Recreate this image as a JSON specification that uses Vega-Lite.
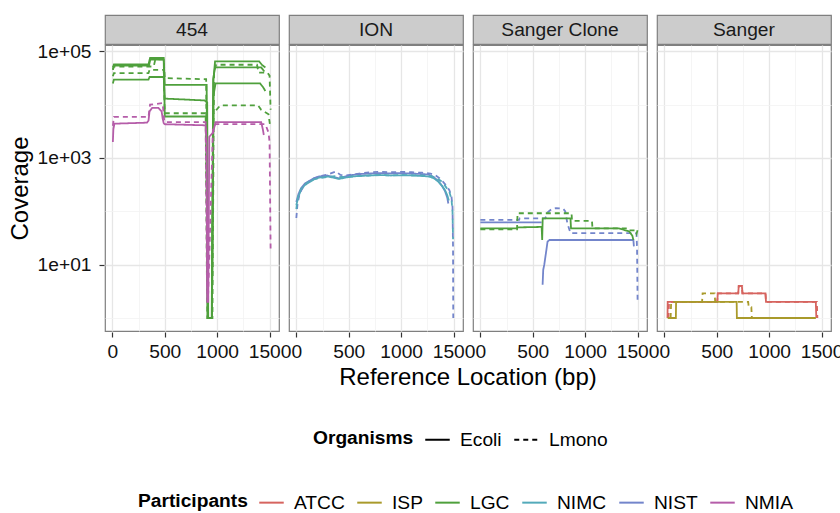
{
"$schema": "https://vega.github.io/schema/vega-lite/v6.json",
"background": "white",
"padding": {"left": 8, "top": 14, "right": 5, "bottom": 0},
"config": {
  "font": "Liberation Sans",
  "view": {"stroke": "#7F7F7F", "strokeWidth": 1.2},
  "axis": {"labelFont": "Liberation Sans", "labelFontSize": 19.2, "labelColor": "#111111", "titleFont": "Liberation Sans", "titleFontSize": 24, "titleFontWeight": "normal", "titleColor": "#000000", "tickColor": "#333333", "tickSize": 5, "tickWidth": 1.2, "domain": false},
  "legend": {"labelFont": "Liberation Sans", "labelFontSize": 19.2, "labelColor": "#000000", "titleFont": "Liberation Sans", "titleFontSize": 19.2, "titleFontWeight": "bold", "titleColor": "#000000", "symbolType": "stroke", "symbolSize": 600, "symbolStrokeWidth": 2, "labelOffset": 9, "columnPadding": 8, "titlePadding": 10, "titleOrient": "left", "direction": "horizontal"}
},
"resolve": {"scale": {"y": "independent"}},
"spacing": -4,
"datasets": {
"cov": [
{"panel":"454","who":"LGC","org":"Ecoli","run":"a1","x":5,"y":50000},
{"panel":"454","who":"LGC","org":"Ecoli","run":"a1","x":15,"y":57000},
{"panel":"454","who":"LGC","org":"Ecoli","run":"a1","x":345,"y":57000},
{"panel":"454","who":"LGC","org":"Ecoli","run":"a1","x":360,"y":75000},
{"panel":"454","who":"LGC","org":"Ecoli","run":"a1","x":490,"y":75000},
{"panel":"454","who":"LGC","org":"Ecoli","run":"a1","x":500,"y":23500},
{"panel":"454","who":"LGC","org":"Ecoli","run":"a1","x":900,"y":23500},
{"panel":"454","who":"LGC","org":"Ecoli","run":"a1","x":910,"y":1},
{"panel":"454","who":"LGC","org":"Ecoli","run":"a1","x":950,"y":1},
{"panel":"454","who":"LGC","org":"Ecoli","run":"a1","x":965,"y":30000},
{"panel":"454","who":"LGC","org":"Ecoli","run":"a1","x":980,"y":65000},
{"panel":"454","who":"LGC","org":"Ecoli","run":"a1","x":1400,"y":65000},
{"panel":"454","who":"LGC","org":"Ecoli","run":"a1","x":1430,"y":55000},
{"panel":"454","who":"LGC","org":"Ecoli","run":"a1","x":1460,"y":50000},
{"panel":"454","who":"LGC","org":"Ecoli","run":"a2","x":5,"y":25000},
{"panel":"454","who":"LGC","org":"Ecoli","run":"a2","x":15,"y":29500},
{"panel":"454","who":"LGC","org":"Ecoli","run":"a2","x":345,"y":29500},
{"panel":"454","who":"LGC","org":"Ecoli","run":"a2","x":355,"y":33000},
{"panel":"454","who":"LGC","org":"Ecoli","run":"a2","x":490,"y":33000},
{"panel":"454","who":"LGC","org":"Ecoli","run":"a2","x":500,"y":13000},
{"panel":"454","who":"LGC","org":"Ecoli","run":"a2","x":880,"y":12000},
{"panel":"454","who":"LGC","org":"Ecoli","run":"a2","x":905,"y":11000},
{"panel":"454","who":"LGC","org":"Ecoli","run":"a2","x":915,"y":1},
{"panel":"454","who":"LGC","org":"Ecoli","run":"a2","x":950,"y":1},
{"panel":"454","who":"LGC","org":"Ecoli","run":"a2","x":965,"y":15000},
{"panel":"454","who":"LGC","org":"Ecoli","run":"a2","x":985,"y":25000},
{"panel":"454","who":"LGC","org":"Ecoli","run":"a2","x":1410,"y":25000},
{"panel":"454","who":"LGC","org":"Ecoli","run":"a2","x":1440,"y":21000},
{"panel":"454","who":"LGC","org":"Ecoli","run":"a2","x":1460,"y":18000},
{"panel":"454","who":"LGC","org":"Ecoli","run":"a3","x":5,"y":45000},
{"panel":"454","who":"LGC","org":"Ecoli","run":"a3","x":15,"y":54000},
{"panel":"454","who":"LGC","org":"Ecoli","run":"a3","x":350,"y":54000},
{"panel":"454","who":"LGC","org":"Ecoli","run":"a3","x":362,"y":70000},
{"panel":"454","who":"LGC","org":"Ecoli","run":"a3","x":490,"y":70000},
{"panel":"454","who":"LGC","org":"Ecoli","run":"a3","x":500,"y":6000},
{"panel":"454","who":"LGC","org":"Ecoli","run":"a3","x":895,"y":6000},
{"panel":"454","who":"LGC","org":"Ecoli","run":"a3","x":912,"y":1},
{"panel":"454","who":"LGC","org":"Ecoli","run":"a3","x":948,"y":1},
{"panel":"454","who":"LGC","org":"Ecoli","run":"a3","x":962,"y":30000},
{"panel":"454","who":"LGC","org":"Ecoli","run":"a3","x":980,"y":50000},
{"panel":"454","who":"LGC","org":"Ecoli","run":"a3","x":1420,"y":50000},
{"panel":"454","who":"LGC","org":"Ecoli","run":"a3","x":1450,"y":42000},
{"panel":"454","who":"LGC","org":"Lmono","run":"a4","x":5,"y":45000},
{"panel":"454","who":"LGC","org":"Lmono","run":"a4","x":15,"y":52000},
{"panel":"454","who":"LGC","org":"Lmono","run":"a4","x":395,"y":52000},
{"panel":"454","who":"LGC","org":"Lmono","run":"a4","x":410,"y":71000},
{"panel":"454","who":"LGC","org":"Lmono","run":"a4","x":490,"y":71000},
{"panel":"454","who":"LGC","org":"Lmono","run":"a4","x":500,"y":31500},
{"panel":"454","who":"LGC","org":"Lmono","run":"a4","x":895,"y":30000},
{"panel":"454","who":"LGC","org":"Lmono","run":"a4","x":908,"y":1},
{"panel":"454","who":"LGC","org":"Lmono","run":"a4","x":955,"y":1},
{"panel":"454","who":"LGC","org":"Lmono","run":"a4","x":970,"y":40000},
{"panel":"454","who":"LGC","org":"Lmono","run":"a4","x":990,"y":56000},
{"panel":"454","who":"LGC","org":"Lmono","run":"a4","x":1380,"y":56000},
{"panel":"454","who":"LGC","org":"Lmono","run":"a4","x":1395,"y":40000},
{"panel":"454","who":"LGC","org":"Lmono","run":"a4","x":1480,"y":40000},
{"panel":"454","who":"LGC","org":"Lmono","run":"a4","x":1500,"y":35000},
{"panel":"454","who":"LGC","org":"Lmono","run":"a4","x":1510,"y":8000},
{"panel":"454","who":"LGC","org":"Lmono","run":"a5","x":5,"y":34000},
{"panel":"454","who":"LGC","org":"Lmono","run":"a5","x":15,"y":39000},
{"panel":"454","who":"LGC","org":"Lmono","run":"a5","x":345,"y":39000},
{"panel":"454","who":"LGC","org":"Lmono","run":"a5","x":355,"y":45000},
{"panel":"454","who":"LGC","org":"Lmono","run":"a5","x":490,"y":45000},
{"panel":"454","who":"LGC","org":"Lmono","run":"a5","x":500,"y":6900},
{"panel":"454","who":"LGC","org":"Lmono","run":"a5","x":890,"y":6900},
{"panel":"454","who":"LGC","org":"Lmono","run":"a5","x":905,"y":1},
{"panel":"454","who":"LGC","org":"Lmono","run":"a5","x":950,"y":1},
{"panel":"454","who":"LGC","org":"Lmono","run":"a5","x":965,"y":6900},
{"panel":"454","who":"LGC","org":"Lmono","run":"a5","x":1030,"y":9700},
{"panel":"454","who":"LGC","org":"Lmono","run":"a5","x":1390,"y":9700},
{"panel":"454","who":"LGC","org":"Lmono","run":"a5","x":1420,"y":8000},
{"panel":"454","who":"LGC","org":"Lmono","run":"a5","x":1490,"y":6600},
{"panel":"454","who":"LGC","org":"Lmono","run":"a5","x":1505,"y":4000},
{"panel":"454","who":"NMIA","org":"Ecoli","run":"a6","x":5,"y":2000},
{"panel":"454","who":"NMIA","org":"Ecoli","run":"a6","x":10,"y":3500},
{"panel":"454","who":"NMIA","org":"Ecoli","run":"a6","x":20,"y":4400},
{"panel":"454","who":"NMIA","org":"Ecoli","run":"a6","x":330,"y":4600},
{"panel":"454","who":"NMIA","org":"Ecoli","run":"a6","x":345,"y":5000},
{"panel":"454","who":"NMIA","org":"Ecoli","run":"a6","x":355,"y":7500},
{"panel":"454","who":"NMIA","org":"Ecoli","run":"a6","x":380,"y":8700},
{"panel":"454","who":"NMIA","org":"Ecoli","run":"a6","x":440,"y":8700},
{"panel":"454","who":"NMIA","org":"Ecoli","run":"a6","x":470,"y":7500},
{"panel":"454","who":"NMIA","org":"Ecoli","run":"a6","x":480,"y":5500},
{"panel":"454","who":"NMIA","org":"Ecoli","run":"a6","x":490,"y":4500},
{"panel":"454","who":"NMIA","org":"Ecoli","run":"a6","x":500,"y":4300},
{"panel":"454","who":"NMIA","org":"Ecoli","run":"a6","x":890,"y":4100},
{"panel":"454","who":"NMIA","org":"Ecoli","run":"a6","x":900,"y":2000},
{"panel":"454","who":"NMIA","org":"Ecoli","run":"a6","x":905,"y":2},
{"panel":"454","who":"NMIA","org":"Ecoli","run":"a6","x":915,"y":2},
{"panel":"454","who":"NMIA","org":"Ecoli","run":"a6","x":925,"y":2500},
{"panel":"454","who":"NMIA","org":"Ecoli","run":"a6","x":960,"y":3000},
{"panel":"454","who":"NMIA","org":"Ecoli","run":"a6","x":985,"y":4700},
{"panel":"454","who":"NMIA","org":"Ecoli","run":"a6","x":1420,"y":4700},
{"panel":"454","who":"NMIA","org":"Ecoli","run":"a6","x":1435,"y":3500},
{"panel":"454","who":"NMIA","org":"Ecoli","run":"a6","x":1445,"y":2700},
{"panel":"454","who":"NMIA","org":"Lmono","run":"a7","x":5,"y":4000},
{"panel":"454","who":"NMIA","org":"Lmono","run":"a7","x":15,"y":5900},
{"panel":"454","who":"NMIA","org":"Lmono","run":"a7","x":345,"y":5900},
{"panel":"454","who":"NMIA","org":"Lmono","run":"a7","x":360,"y":10000},
{"panel":"454","who":"NMIA","org":"Lmono","run":"a7","x":480,"y":10700},
{"panel":"454","who":"NMIA","org":"Lmono","run":"a7","x":495,"y":5000},
{"panel":"454","who":"NMIA","org":"Lmono","run":"a7","x":500,"y":4700},
{"panel":"454","who":"NMIA","org":"Lmono","run":"a7","x":890,"y":4700},
{"panel":"454","who":"NMIA","org":"Lmono","run":"a7","x":905,"y":3},
{"panel":"454","who":"NMIA","org":"Lmono","run":"a7","x":915,"y":3},
{"panel":"454","who":"NMIA","org":"Lmono","run":"a7","x":960,"y":3500},
{"panel":"454","who":"NMIA","org":"Lmono","run":"a7","x":985,"y":4300},
{"panel":"454","who":"NMIA","org":"Lmono","run":"a7","x":1460,"y":4300},
{"panel":"454","who":"NMIA","org":"Lmono","run":"a7","x":1490,"y":3000},
{"panel":"454","who":"NMIA","org":"Lmono","run":"a7","x":1500,"y":2000},
{"panel":"454","who":"NMIA","org":"Lmono","run":"a7","x":1510,"y":19},
{"panel":"ION","who":"NIST","org":"Ecoli","run":"b1","x":0,"y":150},
{"panel":"ION","who":"NIST","org":"Ecoli","run":"b1","x":20,"y":210},
{"panel":"ION","who":"NIST","org":"Ecoli","run":"b1","x":45,"y":270},
{"panel":"ION","who":"NIST","org":"Ecoli","run":"b1","x":80,"y":330},
{"panel":"ION","who":"NIST","org":"Ecoli","run":"b1","x":123,"y":370},
{"panel":"ION","who":"NIST","org":"Ecoli","run":"b1","x":170,"y":420},
{"panel":"ION","who":"NIST","org":"Ecoli","run":"b1","x":218,"y":450},
{"panel":"ION","who":"NIST","org":"Ecoli","run":"b1","x":297,"y":470},
{"panel":"ION","who":"NIST","org":"Ecoli","run":"b1","x":350,"y":440},
{"panel":"ION","who":"NIST","org":"Ecoli","run":"b1","x":407,"y":415},
{"panel":"ION","who":"NIST","org":"Ecoli","run":"b1","x":470,"y":450},
{"panel":"ION","who":"NIST","org":"Ecoli","run":"b1","x":534,"y":480},
{"panel":"ION","who":"NIST","org":"Ecoli","run":"b1","x":600,"y":500},
{"panel":"ION","who":"NIST","org":"Ecoli","run":"b1","x":692,"y":510},
{"panel":"ION","who":"NIST","org":"Ecoli","run":"b1","x":800,"y":520},
{"panel":"ION","who":"NIST","org":"Ecoli","run":"b1","x":900,"y":515},
{"panel":"ION","who":"NIST","org":"Ecoli","run":"b1","x":1008,"y":520},
{"panel":"ION","who":"NIST","org":"Ecoli","run":"b1","x":1100,"y":510},
{"panel":"ION","who":"NIST","org":"Ecoli","run":"b1","x":1200,"y":500},
{"panel":"ION","who":"NIST","org":"Ecoli","run":"b1","x":1260,"y":490},
{"panel":"ION","who":"NIST","org":"Ecoli","run":"b1","x":1310,"y":440},
{"panel":"ION","who":"NIST","org":"Ecoli","run":"b1","x":1354,"y":370},
{"panel":"ION","who":"NIST","org":"Ecoli","run":"b1","x":1390,"y":300},
{"panel":"ION","who":"NIST","org":"Ecoli","run":"b1","x":1418,"y":240},
{"panel":"ION","who":"NIST","org":"Ecoli","run":"b1","x":1440,"y":180},
{"panel":"ION","who":"NIST","org":"Ecoli","run":"b1","x":1450,"y":140},
{"panel":"ION","who":"NIMC","org":"Ecoli","run":"b2","x":0,"y":130},
{"panel":"ION","who":"NIMC","org":"Ecoli","run":"b2","x":20,"y":190},
{"panel":"ION","who":"NIMC","org":"Ecoli","run":"b2","x":45,"y":250},
{"panel":"ION","who":"NIMC","org":"Ecoli","run":"b2","x":80,"y":310},
{"panel":"ION","who":"NIMC","org":"Ecoli","run":"b2","x":123,"y":350},
{"panel":"ION","who":"NIMC","org":"Ecoli","run":"b2","x":170,"y":400},
{"panel":"ION","who":"NIMC","org":"Ecoli","run":"b2","x":218,"y":430},
{"panel":"ION","who":"NIMC","org":"Ecoli","run":"b2","x":297,"y":450},
{"panel":"ION","who":"NIMC","org":"Ecoli","run":"b2","x":350,"y":430},
{"panel":"ION","who":"NIMC","org":"Ecoli","run":"b2","x":407,"y":405},
{"panel":"ION","who":"NIMC","org":"Ecoli","run":"b2","x":470,"y":430},
{"panel":"ION","who":"NIMC","org":"Ecoli","run":"b2","x":534,"y":450},
{"panel":"ION","who":"NIMC","org":"Ecoli","run":"b2","x":600,"y":460},
{"panel":"ION","who":"NIMC","org":"Ecoli","run":"b2","x":692,"y":470},
{"panel":"ION","who":"NIMC","org":"Ecoli","run":"b2","x":800,"y":480},
{"panel":"ION","who":"NIMC","org":"Ecoli","run":"b2","x":900,"y":470},
{"panel":"ION","who":"NIMC","org":"Ecoli","run":"b2","x":1008,"y":475},
{"panel":"ION","who":"NIMC","org":"Ecoli","run":"b2","x":1100,"y":470},
{"panel":"ION","who":"NIMC","org":"Ecoli","run":"b2","x":1200,"y":460},
{"panel":"ION","who":"NIMC","org":"Ecoli","run":"b2","x":1260,"y":450},
{"panel":"ION","who":"NIMC","org":"Ecoli","run":"b2","x":1310,"y":420},
{"panel":"ION","who":"NIMC","org":"Ecoli","run":"b2","x":1354,"y":360},
{"panel":"ION","who":"NIMC","org":"Ecoli","run":"b2","x":1390,"y":300},
{"panel":"ION","who":"NIMC","org":"Ecoli","run":"b2","x":1418,"y":250},
{"panel":"ION","who":"NIMC","org":"Ecoli","run":"b2","x":1440,"y":200},
{"panel":"ION","who":"NIMC","org":"Ecoli","run":"b2","x":1455,"y":160},
{"panel":"ION","who":"NIST","org":"Lmono","run":"b3","x":0,"y":75},
{"panel":"ION","who":"NIST","org":"Lmono","run":"b3","x":10,"y":130},
{"panel":"ION","who":"NIST","org":"Lmono","run":"b3","x":30,"y":210},
{"panel":"ION","who":"NIST","org":"Lmono","run":"b3","x":60,"y":280},
{"panel":"ION","who":"NIST","org":"Lmono","run":"b3","x":100,"y":340},
{"panel":"ION","who":"NIST","org":"Lmono","run":"b3","x":150,"y":400},
{"panel":"ION","who":"NIST","org":"Lmono","run":"b3","x":218,"y":450},
{"panel":"ION","who":"NIST","org":"Lmono","run":"b3","x":300,"y":490},
{"panel":"ION","who":"NIST","org":"Lmono","run":"b3","x":380,"y":560},
{"panel":"ION","who":"NIST","org":"Lmono","run":"b3","x":420,"y":480},
{"panel":"ION","who":"NIST","org":"Lmono","run":"b3","x":470,"y":470},
{"panel":"ION","who":"NIST","org":"Lmono","run":"b3","x":534,"y":490},
{"panel":"ION","who":"NIST","org":"Lmono","run":"b3","x":600,"y":510},
{"panel":"ION","who":"NIST","org":"Lmono","run":"b3","x":700,"y":540},
{"panel":"ION","who":"NIST","org":"Lmono","run":"b3","x":800,"y":550},
{"panel":"ION","who":"NIST","org":"Lmono","run":"b3","x":900,"y":540},
{"panel":"ION","who":"NIST","org":"Lmono","run":"b3","x":1008,"y":550},
{"panel":"ION","who":"NIST","org":"Lmono","run":"b3","x":1100,"y":540},
{"panel":"ION","who":"NIST","org":"Lmono","run":"b3","x":1200,"y":530},
{"panel":"ION","who":"NIST","org":"Lmono","run":"b3","x":1280,"y":510},
{"panel":"ION","who":"NIST","org":"Lmono","run":"b3","x":1330,"y":470},
{"panel":"ION","who":"NIST","org":"Lmono","run":"b3","x":1380,"y":400},
{"panel":"ION","who":"NIST","org":"Lmono","run":"b3","x":1420,"y":320},
{"panel":"ION","who":"NIST","org":"Lmono","run":"b3","x":1460,"y":250},
{"panel":"ION","who":"NIST","org":"Lmono","run":"b3","x":1480,"y":190},
{"panel":"ION","who":"NIST","org":"Lmono","run":"b3","x":1490,"y":120},
{"panel":"ION","who":"NIST","org":"Lmono","run":"b3","x":1495,"y":20},
{"panel":"ION","who":"NIST","org":"Lmono","run":"b3","x":1497,"y":1},
{"panel":"ION","who":"NIMC","org":"Lmono","run":"b4","x":0,"y":110},
{"panel":"ION","who":"NIMC","org":"Lmono","run":"b4","x":10,"y":160},
{"panel":"ION","who":"NIMC","org":"Lmono","run":"b4","x":30,"y":230},
{"panel":"ION","who":"NIMC","org":"Lmono","run":"b4","x":60,"y":290},
{"panel":"ION","who":"NIMC","org":"Lmono","run":"b4","x":100,"y":340},
{"panel":"ION","who":"NIMC","org":"Lmono","run":"b4","x":150,"y":390},
{"panel":"ION","who":"NIMC","org":"Lmono","run":"b4","x":218,"y":420},
{"panel":"ION","who":"NIMC","org":"Lmono","run":"b4","x":300,"y":440},
{"panel":"ION","who":"NIMC","org":"Lmono","run":"b4","x":380,"y":460},
{"panel":"ION","who":"NIMC","org":"Lmono","run":"b4","x":420,"y":440},
{"panel":"ION","who":"NIMC","org":"Lmono","run":"b4","x":470,"y":440},
{"panel":"ION","who":"NIMC","org":"Lmono","run":"b4","x":534,"y":450},
{"panel":"ION","who":"NIMC","org":"Lmono","run":"b4","x":600,"y":460},
{"panel":"ION","who":"NIMC","org":"Lmono","run":"b4","x":700,"y":470},
{"panel":"ION","who":"NIMC","org":"Lmono","run":"b4","x":800,"y":480},
{"panel":"ION","who":"NIMC","org":"Lmono","run":"b4","x":900,"y":470},
{"panel":"ION","who":"NIMC","org":"Lmono","run":"b4","x":1008,"y":480},
{"panel":"ION","who":"NIMC","org":"Lmono","run":"b4","x":1100,"y":475},
{"panel":"ION","who":"NIMC","org":"Lmono","run":"b4","x":1200,"y":470},
{"panel":"ION","who":"NIMC","org":"Lmono","run":"b4","x":1280,"y":460},
{"panel":"ION","who":"NIMC","org":"Lmono","run":"b4","x":1330,"y":430},
{"panel":"ION","who":"NIMC","org":"Lmono","run":"b4","x":1380,"y":370},
{"panel":"ION","who":"NIMC","org":"Lmono","run":"b4","x":1420,"y":300},
{"panel":"ION","who":"NIMC","org":"Lmono","run":"b4","x":1460,"y":230},
{"panel":"ION","who":"NIMC","org":"Lmono","run":"b4","x":1480,"y":170},
{"panel":"ION","who":"NIMC","org":"Lmono","run":"b4","x":1490,"y":100},
{"panel":"ION","who":"NIMC","org":"Lmono","run":"b4","x":1495,"y":30},
{"panel":"Sanger Clone","who":"NIST","org":"Lmono","run":"c1","x":0,"y":69},
{"panel":"Sanger Clone","who":"NIST","org":"Lmono","run":"c1","x":370,"y":69},
{"panel":"Sanger Clone","who":"NIST","org":"Lmono","run":"c1","x":375,"y":74},
{"panel":"Sanger Clone","who":"NIST","org":"Lmono","run":"c1","x":620,"y":74},
{"panel":"Sanger Clone","who":"NIST","org":"Lmono","run":"c1","x":640,"y":95},
{"panel":"Sanger Clone","who":"NIST","org":"Lmono","run":"c1","x":680,"y":110},
{"panel":"Sanger Clone","who":"NIST","org":"Lmono","run":"c1","x":720,"y":115},
{"panel":"Sanger Clone","who":"NIST","org":"Lmono","run":"c1","x":790,"y":112},
{"panel":"Sanger Clone","who":"NIST","org":"Lmono","run":"c1","x":810,"y":100},
{"panel":"Sanger Clone","who":"NIST","org":"Lmono","run":"c1","x":830,"y":60},
{"panel":"Sanger Clone","who":"NIST","org":"Lmono","run":"c1","x":860,"y":39},
{"panel":"Sanger Clone","who":"NIST","org":"Lmono","run":"c1","x":1490,"y":39},
{"panel":"Sanger Clone","who":"NIST","org":"Lmono","run":"c1","x":1495,"y":20},
{"panel":"Sanger Clone","who":"NIST","org":"Lmono","run":"c1","x":1500,"y":2.2},
{"panel":"Sanger Clone","who":"NIST","org":"Ecoli","run":"c2","x":0,"y":62},
{"panel":"Sanger Clone","who":"NIST","org":"Ecoli","run":"c2","x":585,"y":62},
{"panel":"Sanger Clone","who":"NIST","org":"Ecoli","run":"c3","x":594,"y":4.2},
{"panel":"Sanger Clone","who":"NIST","org":"Ecoli","run":"c3","x":600,"y":8},
{"panel":"Sanger Clone","who":"NIST","org":"Ecoli","run":"c3","x":610,"y":10},
{"panel":"Sanger Clone","who":"NIST","org":"Ecoli","run":"c3","x":625,"y":16},
{"panel":"Sanger Clone","who":"NIST","org":"Ecoli","run":"c3","x":641,"y":27},
{"panel":"Sanger Clone","who":"NIST","org":"Ecoli","run":"c3","x":660,"y":29},
{"panel":"Sanger Clone","who":"NIST","org":"Ecoli","run":"c3","x":1460,"y":29},
{"panel":"Sanger Clone","who":"NIST","org":"Ecoli","run":"c3","x":1465,"y":22},
{"panel":"Sanger Clone","who":"LGC","org":"Ecoli","run":"c4","x":0,"y":48},
{"panel":"Sanger Clone","who":"LGC","org":"Ecoli","run":"c4","x":350,"y":48},
{"panel":"Sanger Clone","who":"LGC","org":"Ecoli","run":"c4","x":360,"y":50},
{"panel":"Sanger Clone","who":"LGC","org":"Ecoli","run":"c4","x":585,"y":51},
{"panel":"Sanger Clone","who":"LGC","org":"Ecoli","run":"c4","x":590,"y":29},
{"panel":"Sanger Clone","who":"LGC","org":"Ecoli","run":"c4","x":595,"y":74},
{"panel":"Sanger Clone","who":"LGC","org":"Ecoli","run":"c4","x":860,"y":74},
{"panel":"Sanger Clone","who":"LGC","org":"Ecoli","run":"c4","x":865,"y":48},
{"panel":"Sanger Clone","who":"LGC","org":"Ecoli","run":"c4","x":1320,"y":48},
{"panel":"Sanger Clone","who":"LGC","org":"Ecoli","run":"c4","x":1420,"y":42},
{"panel":"Sanger Clone","who":"LGC","org":"Ecoli","run":"c4","x":1450,"y":35},
{"panel":"Sanger Clone","who":"LGC","org":"Ecoli","run":"c4","x":1460,"y":29},
{"panel":"Sanger Clone","who":"LGC","org":"Lmono","run":"c5","x":0,"y":46},
{"panel":"Sanger Clone","who":"LGC","org":"Lmono","run":"c5","x":350,"y":46},
{"panel":"Sanger Clone","who":"LGC","org":"Lmono","run":"c5","x":355,"y":92},
{"panel":"Sanger Clone","who":"LGC","org":"Lmono","run":"c5","x":870,"y":92},
{"panel":"Sanger Clone","who":"LGC","org":"Lmono","run":"c5","x":875,"y":66},
{"panel":"Sanger Clone","who":"LGC","org":"Lmono","run":"c5","x":1065,"y":66},
{"panel":"Sanger Clone","who":"LGC","org":"Lmono","run":"c5","x":1070,"y":48},
{"panel":"Sanger Clone","who":"LGC","org":"Lmono","run":"c5","x":1400,"y":48},
{"panel":"Sanger Clone","who":"LGC","org":"Lmono","run":"c5","x":1410,"y":44},
{"panel":"Sanger Clone","who":"LGC","org":"Lmono","run":"c5","x":1480,"y":44},
{"panel":"Sanger Clone","who":"LGC","org":"Lmono","run":"c5","x":1490,"y":38},
{"panel":"Sanger Clone","who":"LGC","org":"Lmono","run":"c5","x":1500,"y":44},
{"panel":"Sanger","who":"ATCC","org":"Ecoli","run":"d1","x":30,"y":1},
{"panel":"Sanger","who":"ATCC","org":"Ecoli","run":"d1","x":32,"y":2},
{"panel":"Sanger","who":"ATCC","org":"Ecoli","run":"d1","x":505,"y":2},
{"panel":"Sanger","who":"ATCC","org":"Ecoli","run":"d1","x":510,"y":2.9},
{"panel":"Sanger","who":"ATCC","org":"Ecoli","run":"d1","x":705,"y":2.9},
{"panel":"Sanger","who":"ATCC","org":"Ecoli","run":"d1","x":710,"y":4},
{"panel":"Sanger","who":"ATCC","org":"Ecoli","run":"d1","x":740,"y":4},
{"panel":"Sanger","who":"ATCC","org":"Ecoli","run":"d1","x":745,"y":2.9},
{"panel":"Sanger","who":"ATCC","org":"Ecoli","run":"d1","x":965,"y":2.9},
{"panel":"Sanger","who":"ATCC","org":"Ecoli","run":"d1","x":970,"y":2},
{"panel":"Sanger","who":"ATCC","org":"Ecoli","run":"d1","x":1445,"y":2},
{"panel":"Sanger","who":"ATCC","org":"Ecoli","run":"d1","x":1450,"y":1},
{"panel":"Sanger","who":"ATCC","org":"Lmono","run":"d2","x":40,"y":1},
{"panel":"Sanger","who":"ATCC","org":"Lmono","run":"d2","x":45,"y":2},
{"panel":"Sanger","who":"ATCC","org":"Lmono","run":"d2","x":505,"y":2},
{"panel":"Sanger","who":"ATCC","org":"Lmono","run":"d2","x":510,"y":2.9},
{"panel":"Sanger","who":"ATCC","org":"Lmono","run":"d2","x":705,"y":2.9},
{"panel":"Sanger","who":"ATCC","org":"Lmono","run":"d2","x":710,"y":4},
{"panel":"Sanger","who":"ATCC","org":"Lmono","run":"d2","x":740,"y":4},
{"panel":"Sanger","who":"ATCC","org":"Lmono","run":"d2","x":745,"y":2.9},
{"panel":"Sanger","who":"ATCC","org":"Lmono","run":"d2","x":965,"y":2.9},
{"panel":"Sanger","who":"ATCC","org":"Lmono","run":"d2","x":970,"y":2},
{"panel":"Sanger","who":"ATCC","org":"Lmono","run":"d2","x":1455,"y":2},
{"panel":"Sanger","who":"ATCC","org":"Lmono","run":"d2","x":1460,"y":1},
{"panel":"Sanger","who":"ISP","org":"Ecoli","run":"d3","x":32,"y":1},
{"panel":"Sanger","who":"ISP","org":"Ecoli","run":"d3","x":110,"y":1},
{"panel":"Sanger","who":"ISP","org":"Ecoli","run":"d3","x":112,"y":2},
{"panel":"Sanger","who":"ISP","org":"Ecoli","run":"d3","x":690,"y":2},
{"panel":"Sanger","who":"ISP","org":"Ecoli","run":"d3","x":692,"y":1},
{"panel":"Sanger","who":"ISP","org":"Ecoli","run":"d3","x":1445,"y":1},
{"panel":"Sanger","who":"ISP","org":"Lmono","run":"d4","x":60,"y":1},
{"panel":"Sanger","who":"ISP","org":"Lmono","run":"d4","x":65,"y":2},
{"panel":"Sanger","who":"ISP","org":"Lmono","run":"d4","x":360,"y":2},
{"panel":"Sanger","who":"ISP","org":"Lmono","run":"d4","x":365,"y":2.9},
{"panel":"Sanger","who":"ISP","org":"Lmono","run":"d4","x":480,"y":2.9},
{"panel":"Sanger","who":"ISP","org":"Lmono","run":"d4","x":485,"y":2},
{"panel":"Sanger","who":"ISP","org":"Lmono","run":"d4","x":800,"y":2},
{"panel":"Sanger","who":"ISP","org":"Lmono","run":"d4","x":805,"y":1.6},
{"panel":"Sanger","who":"ISP","org":"Lmono","run":"d4","x":830,"y":1.6},
{"panel":"Sanger","who":"ISP","org":"Lmono","run":"d4","x":835,"y":1},
{"panel":"Sanger","who":"ISP","org":"Lmono","run":"d4","x":1440,"y":1}
]
},
"vconcat": [
  {
    "data": {"values": [{"panel": "454"}, {"panel": "ION"}, {"panel": "Sanger Clone"}, {"panel": "Sanger"}]},
    "facet": {"column": {"field": "panel", "type": "nominal", "sort": ["454", "ION", "Sanger Clone", "Sanger"], "title": null, "header": {"labels": false}}},
    "spacing": 8,
    "spec": {
      "width": 174,
      "height": 29,
      "view": {"fill": "#CCCCCC", "stroke": "#7F7F7F", "strokeWidth": 1.2},
      "mark": {"type": "text", "fontSize": 19.2, "font": "Liberation Sans", "color": "#1A1A1A"},
      "encoding": {
        "text": {"field": "panel", "type": "nominal"},
        "y": {"datum": 1, "type": "quantitative", "scale": {"domain": [0, 2]},
              "axis": {"values": [1], "labelExpr": "'1e+05'", "labelColor": "transparent", "tickColor": "transparent", "labelPadding": 8, "grid": false, "title": "C", "titleColor": "transparent", "titlePadding": 5}}
      }
    }
  },
  {
    "data": {"name": "cov"},
    "facet": {"column": {"field": "panel", "type": "nominal", "sort": ["454", "ION", "Sanger Clone", "Sanger"], "title": "Reference Location (bp)",
      "header": {"labels": false, "labelPadding": 0, "titleOrient": "bottom", "titleFont": "Liberation Sans", "titleFontSize": 24, "titleFontWeight": "normal", "titleColor": "#000000", "titlePadding": -6}}},
    "spacing": 8,
    "spec": {
      "width": 174,
      "height": 286,
      "mark": {"type": "line", "strokeWidth": 1.8, "clip": true},
      "encoding": {
        "x": {"field": "x", "type": "quantitative",
              "scale": {"domain": [-70, 1590], "nice": false, "zero": false},
              "axis": {"title": null, "values": [0, 250, 500, 750, 1000, 1250, 1500], "format": "d",
                       "labelExpr": "datum.value % 500 == 0 ? datum.label : ''",
                       "labelOverlap": false, "labelFlush": false, "labelBound": false, "labelPadding": 5,
                       "tickOpacity": {"condition": {"test": "datum.value % 500 == 0", "value": 1}, "value": 0},
                       "gridColor": {"condition": {"test": "datum.value % 500 == 0", "value": "#E6E6E6"}, "value": "#F2F2F2"},
                       "gridWidth": {"condition": {"test": "datum.value % 500 == 0", "value": 1.3}, "value": 0.8}}},
        "y": {"field": "y", "type": "quantitative",
              "scale": {"type": "log", "domain": [0.57, 131500], "nice": false},
              "axis": {"title": "Coverage", "titlePadding": 5, "values": [1, 10, 100, 1000, 10000, 100000],
                       "labelExpr": "datum.value == 100000 ? '1e+05' : datum.value == 1000 ? '1e+03' : datum.value == 10 ? '1e+01' : ''",
                       "labelOverlap": false, "labelPadding": 8,
                       "tickOpacity": {"condition": {"test": "datum.value == 10 || datum.value == 1000 || datum.value == 100000", "value": 1}, "value": 0},
                       "gridColor": {"condition": {"test": "datum.value == 10 || datum.value == 1000 || datum.value == 100000", "value": "#E6E6E6"}, "value": "#F2F2F2"},
                       "gridWidth": {"condition": {"test": "datum.value == 10 || datum.value == 1000 || datum.value == 100000", "value": 1.3}, "value": 0.8}}},
        "color": {"field": "who", "type": "nominal",
                  "scale": {"domain": ["ATCC", "ISP", "LGC", "NIMC", "NIST", "NMIA"], "range": ["#D6645F", "#A99A2B", "#4FA03C", "#53AABA", "#7385CB", "#B55DA9"]},
                  "legend": {"title": "Participants", "orient": "none", "legendX": 33, "legendY": 474}},
        "strokeDash": {"field": "org", "type": "nominal",
                       "scale": {"domain": ["Ecoli", "Lmono"], "range": [[1, 0], [5, 4]]},
                       "legend": {"title": "Organisms", "orient": "none", "legendX": 208, "legendY": 411, "symbolStrokeColor": "#000000"}},
        "detail": {"field": "run", "type": "nominal"}
      }
    }
  }
]
}
